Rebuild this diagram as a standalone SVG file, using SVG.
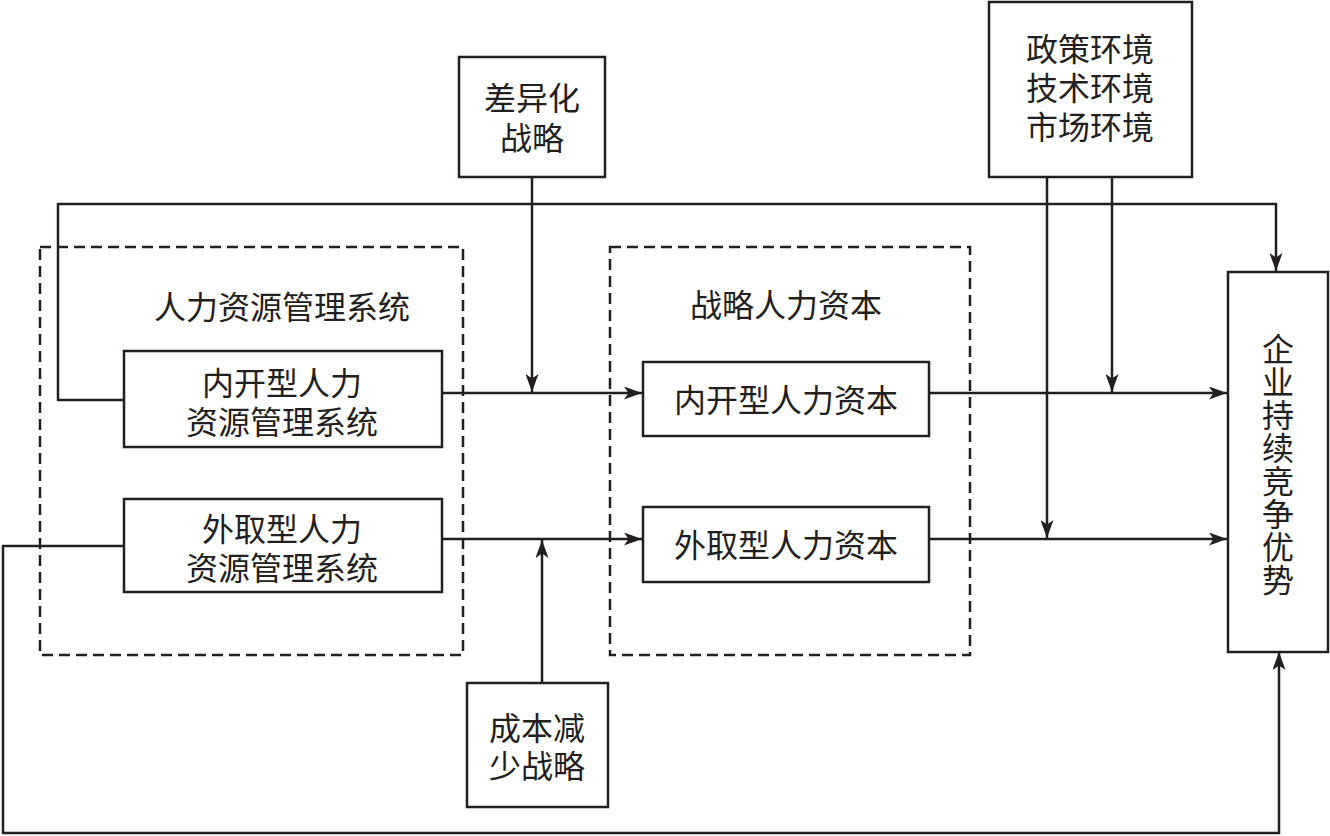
<svg xmlns="http://www.w3.org/2000/svg" width="1330" height="836" viewBox="0 0 1330 836">
<style>
.box{fill:#fff;stroke:#231f20;stroke-width:2.5}
.dash{fill:none;stroke:#231f20;stroke-width:2.5;stroke-dasharray:11 6}
.ln{fill:none;stroke:#231f20;stroke-width:2.5}
text{font-family:"Liberation Sans","Noto Sans CJK SC",sans-serif;font-size:32px;fill:#231f20;text-anchor:middle;dominant-baseline:central}
.vt{font-family:"Noto Sans CJK SC",sans-serif;writing-mode:vertical-rl;letter-spacing:1px}
</style>
<defs>
<marker id="ah" viewBox="0 0 18 13" refX="18" refY="6.5" markerWidth="18" markerHeight="13" markerUnits="userSpaceOnUse" orient="auto">
<path d="M0,0 L18,6.5 L0,13 L4.5,6.5 Z" fill="#231f20"/>
</marker>
</defs>
<g id="group-hrm"><rect class="dash" x="40" y="247" width="423" height="408"/><text x="282" y="308">人力资源管理系统</text></g>
<g id="group-shc"><rect class="dash" x="610" y="247" width="360" height="408"/><text x="786" y="306">战略人力资本</text></g>
<g id="connectors">
<path class="ln" d="M124,400 H58 V204 H1276 V271" marker-end="url(#ah)"/>
<path class="ln" d="M442,393 H642" marker-end="url(#ah)"/>
<path class="ln" d="M532,177 V392" marker-end="url(#ah)"/>
<path class="ln" d="M442,539 H642" marker-end="url(#ah)"/>
<path class="ln" d="M542,683 V540" marker-end="url(#ah)"/>
<path class="ln" d="M124,546 H3 V833 H1279 V652" marker-end="url(#ah)"/>
<path class="ln" d="M929,393 H1227" marker-end="url(#ah)"/>
<path class="ln" d="M929,539 H1227" marker-end="url(#ah)"/>
<path class="ln" d="M1112,177 V392" marker-end="url(#ah)"/>
<path class="ln" d="M1047,177 V538" marker-end="url(#ah)"/>
</g>
<g id="node-nk-hrm"><rect class="box" x="124" y="351" width="318" height="96"/><text x="282" y="384">内开型人力<tspan x="282" dy="39">资源管理系统</tspan></text></g>
<g id="node-wq-hrm"><rect class="box" x="124" y="499" width="318" height="93"/><text x="282" y="530">外取型人力<tspan x="282" dy="39">资源管理系统</tspan></text></g>
<g id="node-nk-hc"><rect class="box" x="643" y="362" width="286" height="74"/><text x="786" y="401">内开型人力资本</text></g>
<g id="node-wq-hc"><rect class="box" x="643" y="507" width="286" height="75"/><text x="786" y="546">外取型人力资本</text></g>
<g id="node-diff"><rect class="box" x="459" y="57" width="146" height="120"/><text x="532" y="99">差异化<tspan x="532" dy="40">战略</tspan></text></g>
<g id="node-cost"><rect class="box" x="467" y="683" width="141" height="124"/><text x="537" y="729">成本减<tspan x="537" dy="38">少战略</tspan></text></g>
<g id="node-env"><rect class="box" x="989" y="2" width="203" height="175"/><text x="1090" y="50">政策环境<tspan x="1090" dy="39">技术环境</tspan><tspan x="1090" dy="39">市场环境</tspan></text></g>
<g id="node-adv"><rect class="box" x="1228" y="272" width="100" height="380"/>
<text class="vt" x="1278" y="465">企业持续竞争优势</text></g>
</svg>
